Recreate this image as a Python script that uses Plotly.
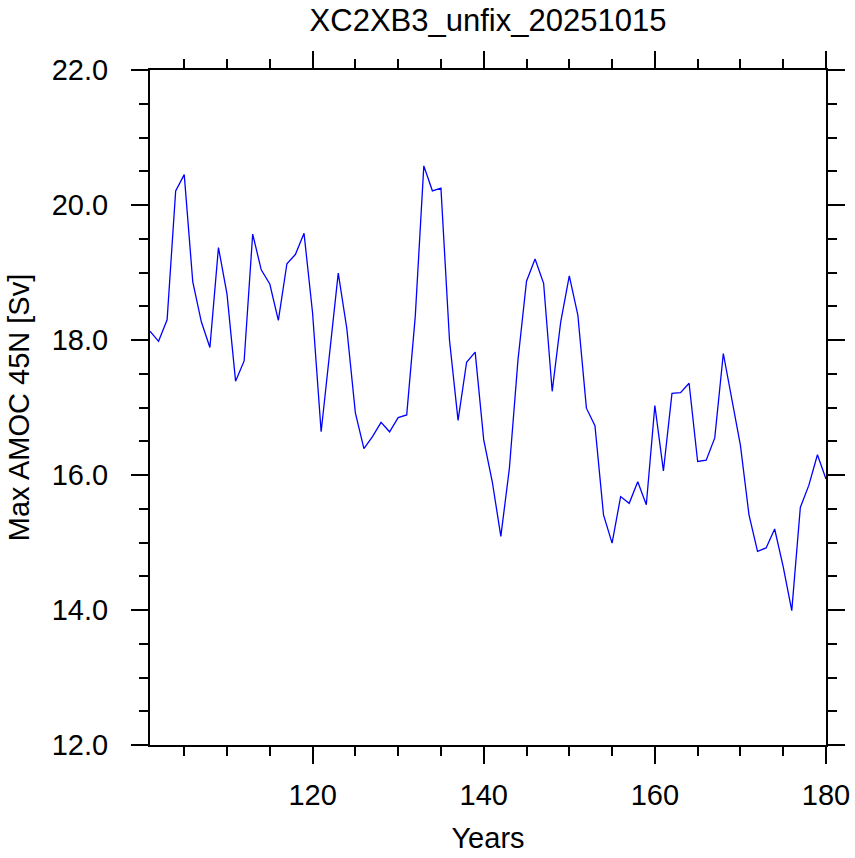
import plotly.graph_objects as go

years = list(range(101, 181))
amoc = [
    18.13, 17.98, 18.30, 20.21, 20.45, 18.86, 18.27, 17.89, 19.37, 18.68,
    17.39, 17.69, 19.57, 19.04, 18.83, 18.29, 19.13, 19.27, 19.58, 18.40,
    16.64, 17.80, 18.99, 18.17, 16.92, 16.39, 16.57, 16.78, 16.64, 16.85,
    16.89, 18.35, 20.58, 20.21, 20.25, 18.00, 16.81, 17.67, 17.82, 16.52,
    15.90, 15.09, 16.10, 17.70, 18.87, 19.20, 18.84, 17.24, 18.27, 18.95,
    18.37, 16.99, 16.73, 15.41, 14.99, 15.68, 15.58, 15.90, 15.56, 17.03,
    16.06, 17.21, 17.22, 17.36, 16.20, 16.22, 16.55, 17.80, 17.14, 16.44,
    15.41, 14.87, 14.92, 15.20, 14.64, 13.99, 15.52, 15.85, 16.30, 15.94,
]

title_text = "XC2XB3_unfix_20251015"
x_title = "Years"
y_title = "Max AMOC 45N [Sv]"

FONT = "Liberation Sans, Arial, Helvetica, sans-serif"

fig = go.Figure()
fig.add_trace(go.Scatter(x=years, y=amoc, mode="lines",
                         line=dict(color="#0000FF", width=1.3),
                         showlegend=False, hoverinfo="x+y"))

axis_common = dict(
    showline=True, linecolor="black", linewidth=2, mirror="allticks",
    ticks="outside", ticklen=17, tickwidth=2, tickcolor="black",
    showgrid=False, zeroline=False, automargin=False,
    tickfont=dict(family=FONT, size=29, color="black"),
)

fig.update_xaxes(
    range=[101, 180], tick0=0, dtick=20,
    minor=dict(ticks="outside", ticklen=9, tickwidth=1.5, tickcolor="black", tick0=0, dtick=5, showgrid=False),
    title=dict(text=x_title, font=dict(family=FONT, size=29, color="black"), standoff=18),
    ticklabelstandoff=6,
    **axis_common,
)
fig.update_yaxes(
    range=[12, 22], tick0=12, dtick=2, tickformat=".1f",
    minor=dict(ticks="outside", ticklen=9, tickwidth=1.5, tickcolor="black", tick0=12, dtick=0.5, showgrid=False),
    title=dict(text=y_title, font=dict(family=FONT, size=29, color="black"), standoff=14),
    ticklabelstandoff=17,
    **axis_common,
)

fig.update_layout(
    width=855, height=858,
    margin=dict(l=150, r=29, t=70, b=113),
    plot_bgcolor="white", paper_bgcolor="white",
    title=dict(text=title_text, x=(150 + 826) / 2 / 855, xanchor="center",
               y=1 - 20 / 858, yanchor="middle",
               font=dict(family=FONT, size=31, color="black")),
)

fig.write_html("out.html")
